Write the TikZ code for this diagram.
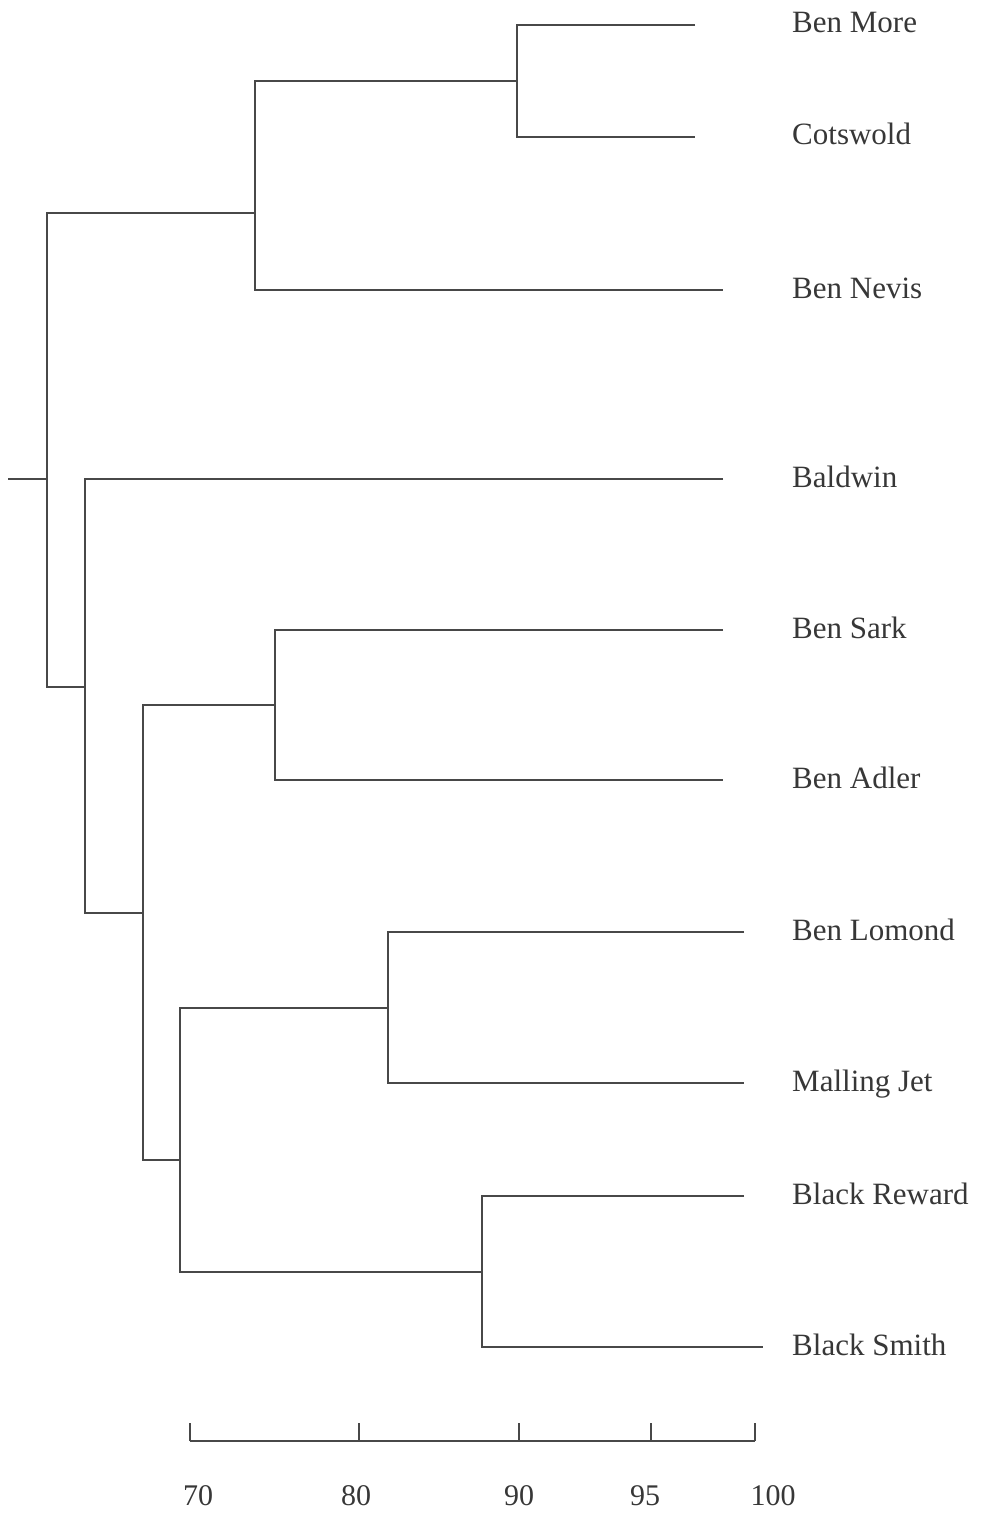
\documentclass[tikz,border=0pt]{standalone}
\usepackage{fontspec}
\setmainfont{Liberation Serif}
\usetikzlibrary{positioning,calc}
\definecolor{TreeGray}{RGB}{72,72,72}
\definecolor{LabelGray}{RGB}{55,55,55}
\tikzset{
  leaf/.style={anchor=base west,inner sep=0pt,text=LabelGray,
    font=\fontsize{31}{37}\selectfont},
  scalelabel/.style={anchor=base,inner sep=0pt,text=LabelGray,
    font=\fontsize{30}{36}\selectfont},
  branch/.style={draw=TreeGray,line width=1.6pt}
}

\begin{document}
\begin{tikzpicture}[x=1pt,y=-1pt]
      \useasboundingbox (0,0) rectangle (980,1514);
      % leaves
      \coordinate (more-end) at (695,25);
      \coordinate (cots-end) at (695,137);
      \coordinate (nevis-end) at (723,290);
      \coordinate (baldwin-end) at (723,479);
      \coordinate (sark-end) at (723,630);
      \coordinate (adler-end) at (723,780);
      \coordinate (lomond-end) at (744,932);
      \coordinate (malling-end) at (744,1083);
      \coordinate (reward-end) at (744,1196);
      \coordinate (smith-end) at (763,1347);
      \node[leaf] (more) at (792,33) {Ben More};
      \node[leaf] (cots) at (792,145) {Cotswold};
      \node[leaf] (nevis) at (792,298) {Ben Nevis};
      \node[leaf] (baldwin) at (792,487) {Baldwin};
      \node[leaf] (sark) at (792,638) {Ben Sark};
      \node[leaf] (adler) at (792,788) {Ben Adler};
      \node[leaf] (lomond) at (792,940) {Ben Lomond};
      \node[leaf] (malling) at (792,1091) {Malling Jet};
      \node[leaf] (reward) at (792,1204) {Black Reward};
      \node[leaf] (smith) at (792,1355) {Black Smith};
      % joins
      \coordinate (root) at (8,479);
      \coordinate (j0) at (47,479);
      \coordinate (j1) at (517,81);
      \coordinate (j2) at (255,213);
      \coordinate (j3) at (85,687);
      \coordinate (j4) at (143,913);
      \coordinate (j5) at (275,705);
      \coordinate (j6) at (180,1160);
      \coordinate (j7) at (388,1008);
      \coordinate (j8) at (482,1272);
      \draw[branch] (more-end) -| (j1) |- (cots-end);
      \draw[branch] (j1) -| (j2) |- (nevis-end);
      \draw[branch] (j2) -| (j0) |- (j3);
      \draw[branch] (baldwin-end) -| (j3) |- (j4);
      \draw[branch] (j5) -| (j4) |- (j6);
      \draw[branch] (sark-end) -| (j5) |- (adler-end);
      \draw[branch] (j7) -| (j6) |- (j8);
      \draw[branch] (lomond-end) -| (j7) |- (malling-end);
      \draw[branch] (reward-end) -| (j8) |- (smith-end);
      \draw[branch] (root) -- (j0);
      % scale
      \coordinate (a70) at (190,1441);
      \coordinate (a80) at (359,1441);
      \coordinate (a90) at (519,1441);
      \coordinate (a95) at (651,1441);
      \coordinate (a100) at (755,1441);
      \draw[branch] (a70) -- (a100);
      \foreach \p in {70,80,90,95,100}
        \draw[branch] (a\p) -- ++(0,-18);
      \node[scalelabel] (s70) at (198,1505) {70};
      \node[scalelabel] (s80) at (356,1505) {80};
      \node[scalelabel] (s90) at (519,1505) {90};
      \node[scalelabel] (s95) at (645,1505) {95};
      \node[scalelabel] (s100) at (773,1505) {100};
    \end{tikzpicture}
\end{document}
